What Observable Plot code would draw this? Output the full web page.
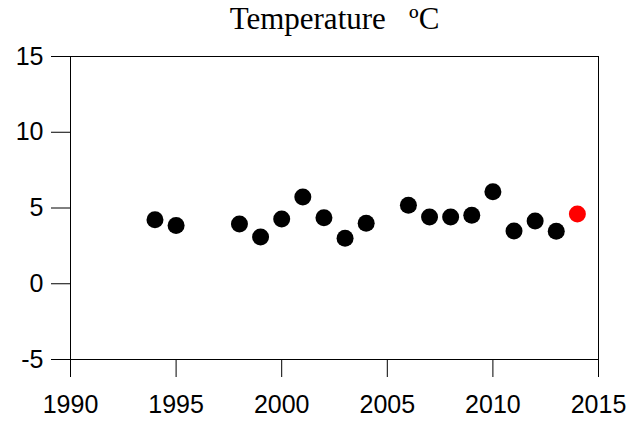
<!DOCTYPE html>
<html>
<head>
<meta charset="utf-8">
<script src="https://cdn.jsdelivr.net/npm/d3@7"></script>
<script src="https://cdn.jsdelivr.net/npm/@observablehq/plot@0.6"></script>
<style>
  html, body { margin: 0; padding: 0; background: #fff; }
</style>
</head>
<body>
<div id="chart"></div>
<script>
const titleText = "Temperature\u00a0\u00a0\u00a0ºC";
const years = [1994, 1995, 1998, 1999, 2000, 2001, 2002, 2003, 2004, 2006, 2007, 2008, 2009, 2010, 2011, 2012, 2013];
const temps = [4.23, 3.85, 3.94, 3.08, 4.27, 5.73, 4.36, 3.01, 3.99, 5.18, 4.41, 4.41, 4.52, 6.07, 3.48, 4.14, 3.46];
const latestYear = [2014];
const latestTemp = [4.6];
const xTicks = [1990, 1995, 2000, 2005, 2010, 2015];
const yTicks = [-5, 0, 5, 10, 15];

const obs = years.map((y, i) => ({year: y, temp: temps[i]}));
const latest = latestYear.map((y, i) => ({year: y, temp: latestTemp[i]}));

const chart = Plot.plot({
  width: 629,
  height: 425,
  marginLeft: 70,
  marginRight: 31,
  marginTop: 56,
  marginBottom: 66,
  style: {fontFamily: "'Liberation Sans', Arial, sans-serif", fontSize: "25px", background: "#fff", color: "#000"},
  x: {domain: [1990, 2015]},
  y: {domain: [-5, 15]},
  marks: [
    Plot.frame({stroke: "#000", strokeWidth: 1}),
    Plot.axisX({ticks: xTicks, tickFormat: d => String(d), tickSize: 18, tickPadding: 18, label: null, fontSize: 25}),
    Plot.axisY({ticks: yTicks, tickFormat: d => String(d), tickSize: 19, tickPadding: 8, label: null, fontSize: 25}),
    Plot.dot(obs, {x: "year", y: "temp", r: 8.5, fill: "#000", stroke: null}),
    Plot.dot(latest, {x: "year", y: "temp", r: 8.5, fill: "#ff0000", stroke: null}),
    Plot.text([titleText], {text: d => d, frameAnchor: "top", dy: -28, lineAnchor: "bottom", fontFamily: "'Liberation Serif', 'Times New Roman', serif", fontSize: 31, fill: "#000"})
  ]
});
document.getElementById("chart").appendChild(chart);
</script>
</body>
</html>
